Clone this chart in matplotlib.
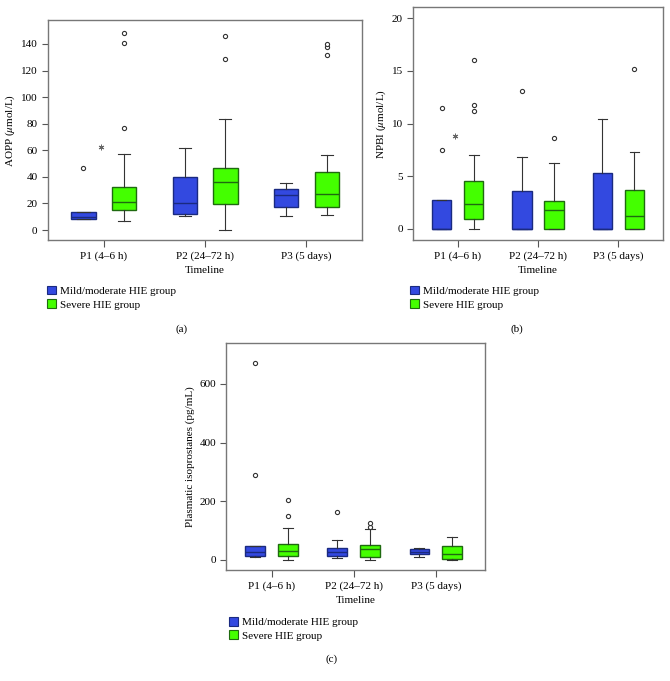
import matplotlib
matplotlib.use("Agg")
import matplotlib.pyplot as plt
from matplotlib.patches import Patch

plt.rcParams['font.family'] = ['Liberation Serif', 'DejaVu Serif']
plt.rcParams['mathtext.fontset'] = 'stix'

categories = ["P1 (4–6 h)", "P2 (24–72 h)", "P3 (5 days)"]
groups = ["Mild/moderate HIE group", "Severe HIE group"]
colors = ["#3349e0", "#44ff00"]
edge_colors = ["#1a2a80", "#1f6a10"]

# Panel (a) AOPP: per group, per period -> (whislo, q1, med, q3, whishi)
aopp_mild = [(8.0, 8.0, 9.8, 13.3, 13.3), (10.5, 11.8, 20.3, 39.6, 62.0), (10.8, 17.0, 26.1, 30.9, 35.1)]
aopp_severe = [(7.0, 14.8, 21.0, 32.6, 57.0), (0.0, 19.3, 36.4, 47.0, 83.3), (11.5, 17.3, 27.1, 43.9, 56.4)]
aopp_mild_out = [[47.0], [], []]
aopp_severe_out = [[77.0, 141.0, 148.0], [128.4, 146.0], [131.7, 138.0, 140.0]]
aopp_extreme = [(0, 62.5)]  # (period index, value)

# Panel (b) NPBI
npbi_mild = [(0.0, 0.0, 0.0, 2.72, 2.72), (0.0, 0.0, 0.0, 3.58, 6.87), (0.0, 0.0, 0.0, 5.32, 10.47)]
npbi_severe = [(0.0, 0.92, 2.34, 4.5, 7.0), (0.0, 0.0, 1.77, 2.63, 6.27), (0.0, 0.0, 1.27, 3.7, 7.28)]
npbi_mild_out = [[7.5, 11.5], [13.1], []]
npbi_severe_out = [[11.17, 11.74, 16.0], [8.58], [15.13]]
npbi_extreme = [(0, 8.86)]

# Panel (c) Plasmatic isoprostanes
iso_mild = [(8.0, 13.7, 26.0, 48.0, 48.0), (5.7, 13.7, 27.0, 41.0, 67.0), (10.0, 18.0, 28.0, 35.0, 39.0)]
iso_severe = [(0.0, 11.4, 29.6, 53.5, 107.0), (0.0, 10.0, 35.0, 52.0, 104.0), (0.0, 1.0, 18.0, 45.5, 76.0)]
iso_mild_out = [[290.0, 671.0], [164.0], []]
iso_severe_out = [[150.0, 204.0], [112.0, 125.0], []]
iso_extreme = []

FS = 8


def make_stats(vals, outs):
    st = []
    for (lo, q1, med, q3, hi), fl in zip(vals, outs):
        st.append(dict(whislo=lo, q1=q1, med=med, q3=q3, whishi=hi, fliers=fl))
    return st


def draw_panel(ax, mild, severe, mild_out, severe_out, extreme, ylim, yticks, ylabel):
    offs = [-0.2, 0.2]
    for gi, (vals, outs) in enumerate([(mild, mild_out), (severe, severe_out)]):
        pos = [i + offs[gi] for i in range(len(categories))]
        ax.bxp(make_stats(vals, outs), positions=pos, widths=0.24, patch_artist=True,
               boxprops=dict(facecolor=colors[gi], edgecolor=edge_colors[gi], linewidth=1.0),
               medianprops=dict(color=edge_colors[gi], linewidth=1.0),
               whiskerprops=dict(color="#333333", linewidth=0.8),
               capprops=dict(color="#333333", linewidth=0.8),
               capwidths=0.12,
               flierprops=dict(marker='o', markersize=3, markerfacecolor='white',
                               markeredgecolor='#333333', markeredgewidth=0.8))
    for idx, v in extreme:
        ax.plot([idx - 0.03], [v], marker=(6, 2, 0), markersize=4, color='#666666',
                markeredgewidth=0.7, linestyle='none')
    ax.set_xlim(-0.55, 2.55)
    ax.set_ylim(*ylim)
    ax.set_yticks(yticks)
    ax.set_xticks(range(len(categories)))
    ax.set_xticklabels(categories, fontsize=FS)
    ax.tick_params(axis='y', labelsize=FS, length=4, width=0.8, color='#555555')
    ax.tick_params(axis='x', length=5, width=0.8, color='#555555')
    for s in ax.spines.values():
        s.set_color('#777777')
        s.set_linewidth(1.0)
    ax.set_xlabel("Timeline", fontsize=FS, labelpad=3)
    ax.set_ylabel(ylabel, fontsize=FS, labelpad=3)


fig = plt.figure(figsize=(6.7, 6.81), dpi=100)

ax_a = fig.add_axes([0.0716, 0.6476, 0.469, 0.323])
draw_panel(ax_a, aopp_mild, aopp_severe, aopp_mild_out, aopp_severe_out, aopp_extreme,
           (-7.5, 158), [0, 20, 40, 60, 80, 100, 120, 140], r"AOPP ($\mu$mol/L)")

ax_b = fig.add_axes([0.617, 0.6476, 0.372, 0.342])
draw_panel(ax_b, npbi_mild, npbi_severe, npbi_mild_out, npbi_severe_out, npbi_extreme,
           (-1.05, 21.05), [0, 5, 10, 15, 20], r"NPBI ($\mu$mol/L)")

ax_c = fig.add_axes([0.338, 0.163, 0.386, 0.333])
draw_panel(ax_c, iso_mild, iso_severe, iso_mild_out, iso_severe_out, iso_extreme,
           (-35, 739), [0, 200, 400, 600], "Plasmatic isoprostanes (pg/mL)")
ax_c.set_xlim(-0.55, 2.6)

handles = [Patch(facecolor=colors[i], edgecolor=edge_colors[i], linewidth=0.8) for i in range(2)]


def add_legend(x, y, caption, cx, cy):
    fig.legend(handles, groups, loc='upper left', bbox_to_anchor=(x / 670, 1 - y / 681),
               bbox_transform=fig.transFigure, frameon=False, fontsize=FS,
               handlelength=0.8, handleheight=0.8, handletextpad=0.4, labelspacing=0.3,
               borderpad=0, borderaxespad=0)
    fig.text(cx / 670, 1 - cy / 681, caption, fontsize=FS, ha='center', va='center')


add_legend(47, 286, "(a)", 182, 329)
add_legend(410, 286, "(b)", 517, 329)
add_legend(229, 617, "(c)", 332, 659)

fig.savefig("out.png", dpi=100)
